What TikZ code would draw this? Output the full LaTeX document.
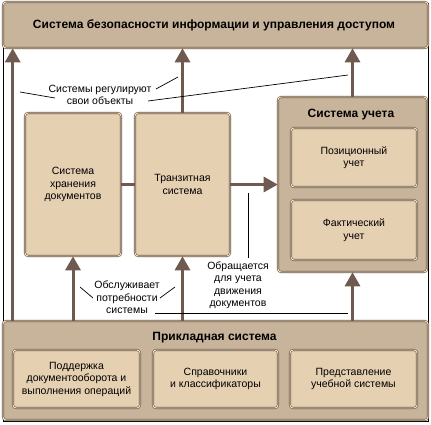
\documentclass[tikz,border=0pt]{standalone}
\usepackage{fontspec}
\setmainfont{Liberation Sans}
\usetikzlibrary{arrows.meta,calc}
\definecolor{outerfill}{HTML}{C8B49A}
\definecolor{innerfill}{HTML}{E6D0B2}
\definecolor{bdark}{HTML}{6A5846}
\definecolor{bhigh}{HTML}{F4E4CA}
\definecolor{arrcol}{HTML}{6E5A50}
\tikzset{
  panel/.style={rectangle, rounded corners=3pt, draw=bdark, line width=0.6pt,
    double=bhigh, double distance=0.9pt, inner sep=0pt, align=center},
  outerbox/.style={panel, fill=outerfill},
  innerbox/.style={panel, fill=innerfill, font=\fontsize{10.5}{12.5}\selectfont},
  lbl/.style={align=center, inner sep=0pt, font=\fontsize{10.5}{12.5}\selectfont},
  ttl/.style={inner sep=0pt, font=\fontsize{12}{14}\selectfont\bfseries},
  arr/.style={draw=arrcol, line width=3pt, -{Triangle[width=15pt,length=14pt]}},
  thick link/.style={draw=arrcol, line width=3pt},
  leader/.style={draw=black, line width=0.7pt}
}
\begin{document}
\begin{tikzpicture}[x=1pt,y=-1pt]
\useasboundingbox (0,0) rectangle (431,424);
\fill[white] (0,0) rectangle (431,424);
% outer frame
\draw[black, line width=0.8pt] (3,3) rectangle (428.5,421);

% top box
\node[outerbox, minimum width=425pt, minimum height=46pt] (top) at (215.5,25) {};
\node[ttl] (toptitle) at (214,25) {Система безопасности информации и управления доступом};

% middle boxes
\node[innerbox, minimum width=96pt, minimum height=143pt] (stor) at (73,184.5) {Система\\хранения\\документов};
\node[innerbox, minimum width=95pt, minimum height=143pt] (trans) at (182.5,184.5) {Транзитная\\система};

% accounting system
\node[outerbox, minimum width=149pt, minimum height=175pt] (uchet) at (352.5,184.5) {};
\node[ttl] (uchettitle) at (351,115) {Система учета};
\node[innerbox, minimum width=126pt, minimum height=59pt] (pos) at (354,157.5) {Позиционный\\учет};
\node[innerbox, minimum width=126pt, minimum height=60pt] (fact) at (354,230) {Фактический\\учет};

% application system
\node[outerbox, minimum width=425pt, minimum height=99pt] (app) at (215.5,370.5) {};
\node[ttl] (apptitle) at (214.5,338) {Прикладная система};
\node[innerbox, minimum width=127pt, minimum height=58pt] (b1) at (76.5,379) {Поддержка\\документооборота и\\выполнения операций};
\node[innerbox, minimum width=125pt, minimum height=58pt] (b2) at (215.5,379) {Справочники\\и классификаторы};
\node[innerbox, minimum width=127pt, minimum height=58pt] (b3) at (353.5,379) {Представление\\учебной системы};

% thick connectors
\draw[thick link] (stor.east) -- (trans.west);
\draw[arr] (trans.east) -- (uchet.west);
\draw[arr] ([xshift=10pt]app.north west) -- ([xshift=10pt]top.south west);
\draw[arr] (trans.north) -- (trans.north |- top.south);
\draw[arr] (uchet.north) -- (uchet.north |- top.south);
\draw[arr] (stor.south |- app.north) -- (stor.south);
\draw[arr] (trans.south |- app.north) -- (trans.south);
\draw[arr] (uchet.south |- app.north) -- (uchet.south);

% labels
\node[lbl] (reg) at (100,95) {Системы регулируют\\свои объекты};
\node[lbl] (obs) at (127,297.5) {Обслуживает\\потребности\\системы};
\node[lbl] (obr) at (238,285) {Обращается\\для учета\\движения\\документов};

% leader lines
\coordinate (r1) at (20,92);
\coordinate (r2) at (178,77);
\coordinate (r3) at (348,75);
\draw[leader] (r1) -- (55,98);
\draw[leader] (156,89) -- (r2);
\draw[leader] (148,101) -- (r3);
\coordinate (o1) at (80,287);
\coordinate (o2) at (175,287);
\draw[leader] (o1) -- (93,298);
\draw[leader] (160,298) -- (o2);
\coordinate (v1) at (248,193);
\draw[leader] (v1) -- (248,258);
\coordinate (h1) at (155,313);
\draw[leader] (h1) -- (348,313);
\end{tikzpicture}
\end{document}
